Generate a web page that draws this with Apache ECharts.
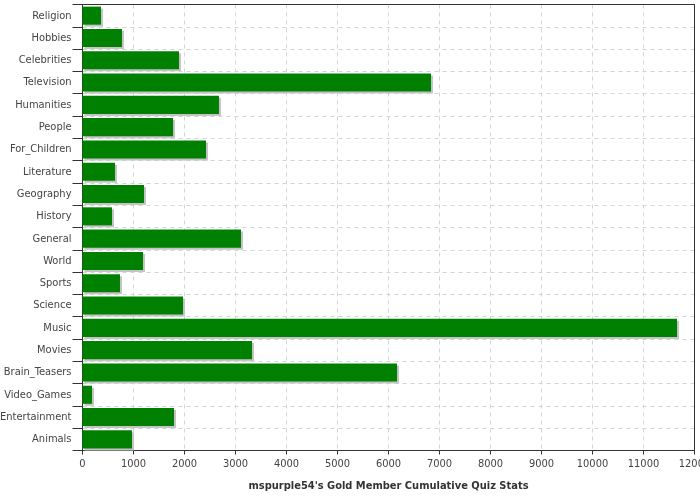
<!DOCTYPE html>
<html>
<head>
<meta charset="utf-8">
<script src="https://cdn.jsdelivr.net/npm/echarts@6/dist/echarts.min.js"></script>
<style>html,body{margin:0;padding:0;background:#fff;}#c{width:700px;height:500px;}</style>
</head>
<body>
<div id="c"></div>
<script>
var categories = ["Religion","Hobbies","Celebrities","Television","Humanities","People","For_Children","Literature","Geography","History","General","World","Sports","Science","Music","Movies","Brain_Teasers","Video_Games","Entertainment","Animals"];
var values = [363, 774, 1892, 6833, 2676, 1775, 2422, 637, 1206, 578, 3108, 1186, 735, 1971, 11657, 3324, 6167, 186, 1794, 970];
var xTicks = {min: 0, max: 12000, interval: 1000};
var axisTitle = "mspurple54's Gold Member Cumulative Quiz Stats";

var font = 'DejaVu Sans Condensed, DejaVu Sans, sans-serif';
var chart = echarts.init(document.getElementById('c'), null, {renderer: 'canvas'});
var frameAxis = {show: true, onZero: false, lineStyle: {color: '#333', width: 1}};
chart.setOption({
  animation: false,
  backgroundColor: '#ffffff',
  grid: {left: 82.5, right: 5.5, top: 4.5, bottom: 49.5, containLabel: false, outerBoundsMode: 'none'},
  xAxis: [{
    type: 'value', min: xTicks.min, max: xTicks.max, interval: xTicks.interval,
    name: axisTitle, nameLocation: 'middle', nameGap: 30,
    nameTextStyle: {fontFamily: font, fontWeight: 'bold', fontSize: 11, color: '#333'},
    axisLine: frameAxis,
    axisTick: {show: true, length: 4, lineStyle: {color: '#333'}},
    axisLabel: {fontFamily: font, fontSize: 11, color: '#444', margin: 8, formatter: function (v) { return String(v); }},
    splitLine: {show: true, lineStyle: {color: '#cfd6da', type: [4, 4], width: 1}}
  }, {
    type: 'value', position: 'top', min: xTicks.min, max: xTicks.max, interval: xTicks.interval,
    axisLine: frameAxis, axisTick: {show: false}, axisLabel: {show: false}, splitLine: {show: false}
  }],
  yAxis: [{
    type: 'category', data: categories, inverse: true,
    axisLine: frameAxis,
    axisTick: {show: true, length: 10, lineStyle: {color: '#333'}},
    axisLabel: {fontFamily: font, fontSize: 11, color: '#444', margin: 11},
    splitLine: {show: true, lineStyle: {color: '#cfd6da', type: [4, 4], width: 1}}
  }, {
    type: 'category', data: categories, inverse: true, position: 'right',
    axisLine: frameAxis, axisTick: {show: false}, axisLabel: {show: false}, splitLine: {show: false}
  }],
  series: [{
    type: 'bar', data: values, barCategoryGap: '19%', xAxisIndex: 0, yAxisIndex: 0,
    itemStyle: {color: '#008000', shadowColor: '#c4c4c4', shadowOffsetX: 2, shadowOffsetY: 2, shadowBlur: 0}
  }]
});
</script>
</body>
</html>
